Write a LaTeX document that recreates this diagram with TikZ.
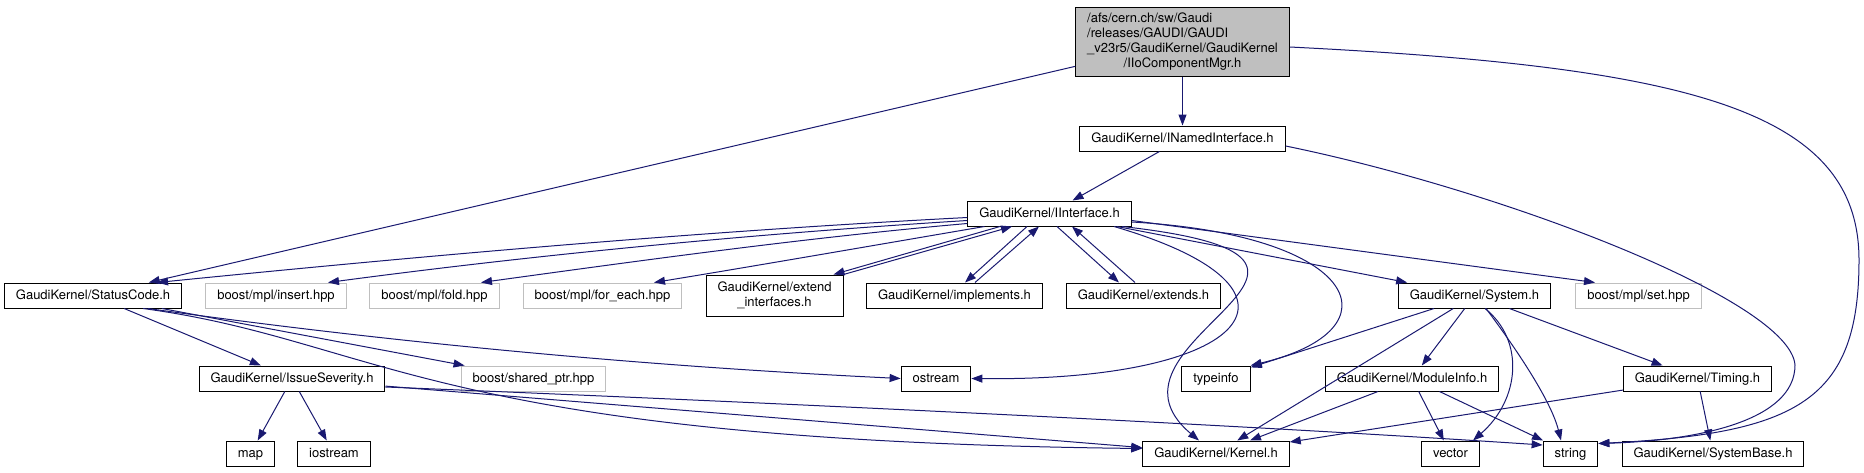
\documentclass[tikz,border=0pt]{standalone}
\usepackage{fontspec}
\setmainfont{TeX Gyre Heros}
\usetikzlibrary{arrows.meta}

\definecolor{edgeblue}{HTML}{191970}
\definecolor{boxgrey}{HTML}{BFBFBF}

\begin{document}
\begin{tikzpicture}[x=1pt,y=-1pt,
    box/.style={draw=black,line width=1pt,inner xsep=11.5pt,inner ysep=0pt,
      minimum height=25pt,font=\fontsize{13}{15}\selectfont},
    hdr/.style={box,text height=9.5pt,text depth=2.5pt},
    ext/.style={hdr,draw=boxgrey},
    dep/.style={draw=edgeblue,line width=1pt,-{Triangle[length=11pt,width=8pt]}}]
  \useasboundingbox (0,0) rectangle (1864,472);

  % files
  \node[box,fill=boxgrey,minimum height=69pt] (iocm) at (1182.5,41.5)
    {\begin{tabular}{@{}l@{}}/afs/cern.ch/sw/Gaudi\\/releases/GAUDI/GAUDI\\
     \_v23r5/GaudiKernel/GaudiKernel\\\multicolumn{1}{@{}c@{}}{/IIoComponentMgr.h}\end{tabular}};
  \node[hdr] (named) at (1182.5,138.5) {GaudiKernel/INamedInterface.h};
  \node[hdr] (iface) at (1049.5,213.5) {GaudiKernel/IInterface.h};
  \node[hdr] (status) at (93,295.5) {GaudiKernel/StatusCode.h};
  \node[ext] (insert) at (276,295.5) {boost/mpl/insert.hpp};
  \node[ext] (fold) at (434.5,295.5) {boost/mpl/fold.hpp};
  \node[ext] (foreach) at (602.5,295.5) {boost/mpl/for\_each.hpp};
  \node[box,align=center,minimum height=41pt] (extint) at (774.5,295.5)
    {GaudiKernel/extend\\\_interfaces.h};
  \node[hdr] (impl) at (954.5,295.5) {GaudiKernel/implements.h};
  \node[hdr] (extends) at (1143.5,295.5) {GaudiKernel/extends.h};
  \node[hdr] (system) at (1474.5,295.5) {GaudiKernel/System.h};
  \node[ext] (mplset) at (1638.5,295.5) {boost/mpl/set.hpp};
  \node[hdr] (issue) at (292,378.5) {GaudiKernel/IssueSeverity.h};
  \node[ext] (shptr) at (533.5,378.5) {boost/shared\_ptr.hpp};
  \node[hdr] (ostream) at (936,378.5) {ostream};
  \node[hdr] (typeinfo) at (1216,378.5) {typeinfo};
  \node[hdr] (modinfo) at (1412,378.5) {GaudiKernel/ModuleInfo.h};
  \node[hdr] (timing) at (1697.5,378.5) {GaudiKernel/Timing.h};
  \node[hdr] (map) at (250.5,453.5) {map};
  \node[hdr] (iostream) at (334,453.5) {iostream};
  \node[hdr] (kernel) at (1216,453.5) {GaudiKernel/Kernel.h};
  \node[hdr] (vector) at (1450.5,453.5) {vector};
  \node[hdr] (string) at (1570.5,453.5) {string};
  \node[hdr] (sysbase) at (1713,453.5) {GaudiKernel/SystemBase.h};

  % includes of IIoComponentMgr.h
  \draw[dep] (iocm) -- (named);
  \draw[dep] (iocm) -- (status);
  \draw[dep] ([yshift=-5.5pt]iocm.east) .. controls +(400,20) and +(0,-150) .. (1859,260)
    .. controls +(0,140) and +(200,-10) .. ([yshift=10pt]string.east);

  % INamedInterface.h
  \draw[dep] (named) -- (iface);
  \draw[dep] ([yshift=-7.5pt]named.east) .. controls +(215,44) and +(-5,-65) .. (1795,365)
    .. controls +(0,55) and +(102,-3) .. ([yshift=10pt]string.east);

  % IInterface.h
  \draw[dep] ([yshift=-4pt]iface.west) .. controls +(-270,14) and +(270,-27) .. ([xshift=64pt]status.north);
  \draw[dep] ([yshift=-7pt]iface.west) .. controls +(-210,13) and +(210,-28) .. ([xshift=52pt]insert.north);
  \draw[dep] ([yshift=-10pt]iface.west) .. controls +(-160,14) and +(160,-22) .. ([xshift=46.5pt]fold.north);
  \draw[dep] ([xshift=-65pt]iface.south) .. controls +(-100,17) and +(110,-18) .. ([xshift=51.5pt]foreach.north);
  \draw[dep] ([xshift=-49.5pt]iface.south) -- ([xshift=-10pt]extint.north east);
  \draw[dep] (extint.north east) -- ([xshift=-37.5pt]iface.south);
  \draw[dep] ([xshift=-22.5pt]iface.south) -- ([xshift=10.5pt]impl.north);
  \draw[dep] ([xshift=20.5pt]impl.north) -- ([xshift=-10.5pt]iface.south);
  \draw[dep] ([xshift=7.5pt]iface.south) -- ([xshift=-24.5pt]extends.north);
  \draw[dep] ([xshift=-8.5pt]extends.north) -- ([xshift=22.5pt]iface.south);
  \draw[dep] ([xshift=64.5pt]iface.south) .. controls +(216,63) and +(279,3) .. (ostream.east);
  \draw[dep] ([xshift=72.5pt]iface.south) .. controls +(298,33) and +(-119,-100) .. ([xshift=-17pt]kernel.north);
  \draw[dep] ([yshift=-8.5pt]iface.east) .. controls +(229,13) and +(150,-36) .. (typeinfo.north east);
  \draw[dep] (iface) -- (system);
  \draw[dep] ([yshift=-7pt]iface.east) -- ([xshift=-43.5pt]mplset.north);

  % StatusCode.h
  \draw[dep] (status) -- (issue);
  \draw[dep] (status) -- (shptr);
  \draw[dep] ([xshift=55pt]status.south) .. controls +(250,35) and +(-250,-12) .. (ostream.west);
  \draw[dep] ([xshift=50pt]status.south) .. controls +(237,32) and +(-712,-8) .. ([yshift=5pt]kernel.west);

  % IssueSeverity.h
  \draw[dep] (issue) -- (map);
  \draw[dep] (issue) -- (iostream);
  \draw[dep] (issue) -- (kernel);
  \draw[dep] ([yshift=-8.5pt]issue.east) .. controls +(400,16) and +(-300,-20) .. ([yshift=8.5pt]string.west);

  % System.h
  \draw[dep] (system) -- (typeinfo);
  \draw[dep] (system) -- (kernel);
  \draw[dep] (system) -- (modinfo);
  \draw[dep] ([xshift=10.5pt]system.south) .. controls +(40,32) and +(47,-41) .. ([xshift=22.5pt]vector.north);
  \draw[dep] ([xshift=11.5pt]system.south) .. controls +(30,40) and +(-10,-40) .. ([xshift=-9.5pt]string.north);
  \draw[dep] (system) -- (timing);

  % ModuleInfo.h and Timing.h
  \draw[dep] (modinfo) -- (kernel);
  \draw[dep] (modinfo) -- (vector);
  \draw[dep] (modinfo) -- (string);
  \draw[dep] (timing) -- (kernel);
  \draw[dep] (timing) -- (sysbase);
\end{tikzpicture}
\end{document}
